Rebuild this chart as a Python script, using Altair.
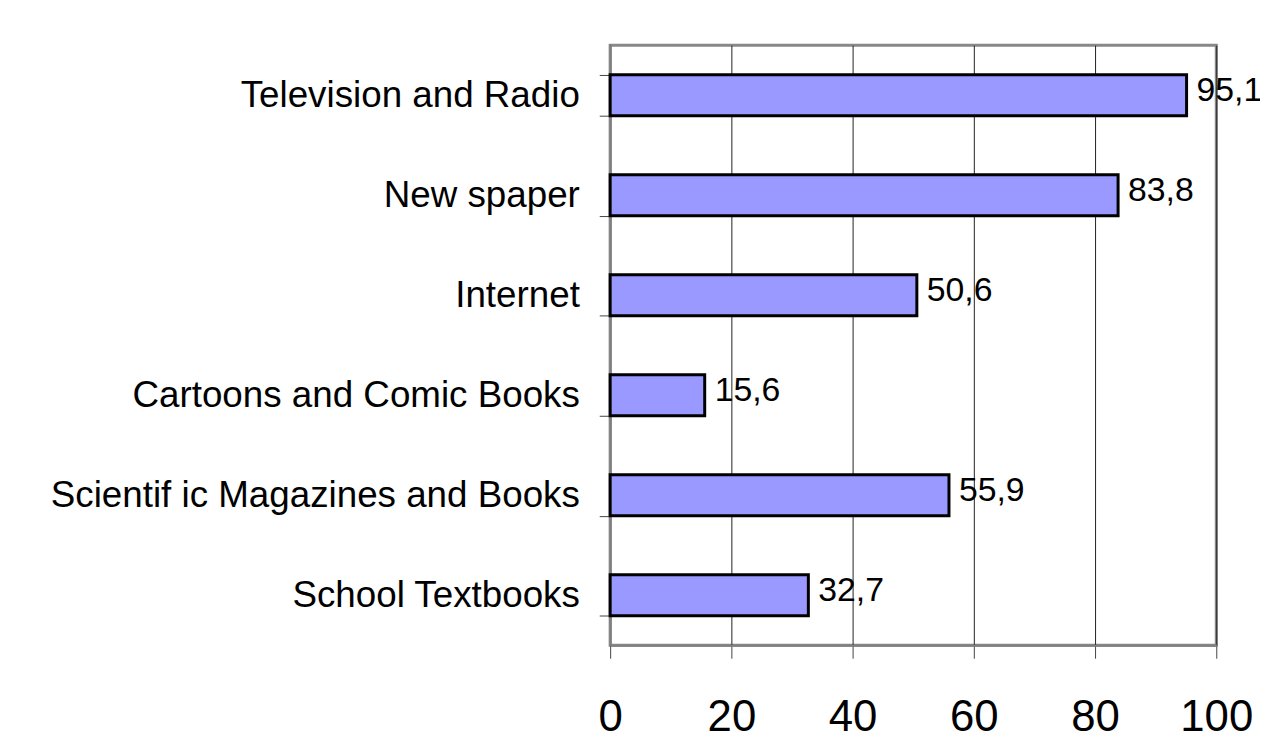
import altair as alt
import pandas as pd

categories = ["Television and Radio", "New spaper", "Internet",
              "Cartoons and Comic Books", "Scientif ic Magazines and Books",
              "School Textbooks"]
values = [95.1, 83.8, 50.6, 15.6, 55.9, 32.7]
x_ticks = [0, 20, 40, 60, 80, 100]

df = pd.DataFrame({"cat": categories, "val": values})

y_enc = alt.Y(
    "cat:N", sort=categories, title=None,
    scale=alt.Scale(paddingInner=0.59, paddingOuter=0.295),
    axis=alt.Axis(tickBand="extent", tickSize=11, tickColor="#444444", tickWidth=1,
                  labelPadding=20, labelFont="Liberation Sans", labelFontSize=37,
                  labelColor="black", domainColor="#808080", domainWidth=2,
                  labelLimit=700),
)
x_enc = alt.X(
    "val:Q", title=None,
    scale=alt.Scale(domain=[0, 100], nice=False),
    axis=alt.Axis(values=x_ticks, tickSize=13, tickColor="#444444", tickWidth=1,
                  grid=True, gridColor="#222222", gridWidth=1,
                  labelFont="Liberation Sans", labelFontSize=44, labelFlush=False,
                  labelColor="black", labelPadding=38, format="d",
                  domainColor="#808080", domainWidth=2),
)

bars = alt.Chart(df).mark_bar(color="#9999FF", stroke="black", strokeWidth=3).encode(
    x=x_enc, y=y_enc
)
text = alt.Chart(df).mark_text(
    align="left", baseline="middle", dx=10, dy=-4,
    font="Liberation Sans", fontSize=34, color="black"
).encode(
    x="val:Q",
    y=alt.Y("cat:N", sort=categories),
    text=alt.Text("val:Q", format=".1f"),
)

chart = (bars + text).properties(
    width=610, height=604,
    autosize=alt.AutoSizeParams(type="none"),
    padding={"left": 606, "top": 35, "right": 44, "bottom": 108},
    background="white",
).configure(
    locale={"number": {"decimal": ",", "thousands": ".", "grouping": [3],
                       "currency": ["", ""]}}
).configure_view(stroke="#888888", strokeWidth=3)

chart.save("out.html", embed_options={"renderer": "svg", "actions": False})
